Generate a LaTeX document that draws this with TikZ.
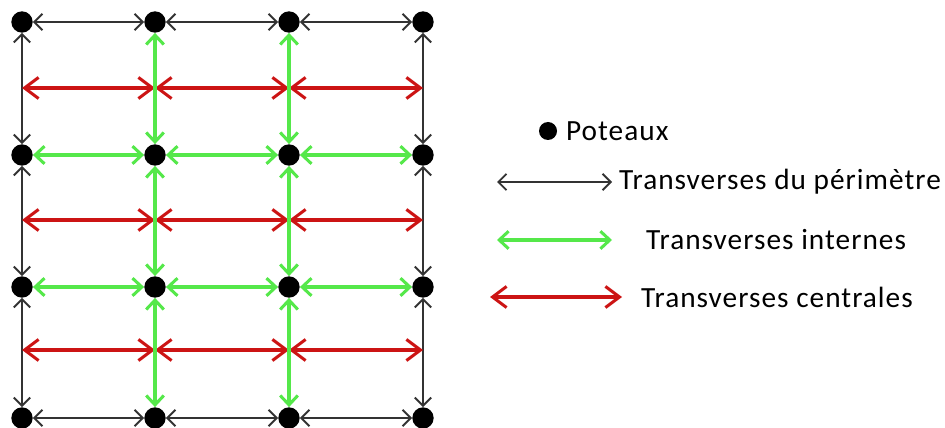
\documentclass[tikz,border=0pt]{standalone}
\usepackage{fontspec}
\setmainfont{Carlito}
\usetikzlibrary{arrows.meta}
\definecolor{vertclair}{HTML}{55E84A}
\definecolor{rougecentre}{HTML}{CC1414}
\definecolor{grisfonce}{HTML}{333333}
\begin{document}
\begin{tikzpicture}[x=0.03cm, y=-0.03cm,
    poteau/.style ={circle, fill=black, inner sep=0pt, minimum size=0.64cm},
    perimetre/.style ={grisfonce, line width=1.8pt, {Straight Barb[length=7pt, width=14pt, line width=1.6pt]}-{Straight Barb[length=7pt, width=14pt, line width=1.6pt]}},
    interne/.style ={vertclair, line width=3pt, {Straight Barb[length=8pt, width=15pt, line width=2.6pt]}-{Straight Barb[length=8pt, width=15pt, line width=2.6pt]}},
    centrale/.style ={rougecentre, line width=3pt, {Straight Barb[length=12pt, width=18pt, line width=2.6pt]}-{Straight Barb[length=12pt, width=18pt, line width=2.6pt]}},
    legende/.style ={anchor=west, font=\fontsize{25}{30}\selectfont\addfontfeatures{LetterSpace=3.5}}]
   \useasboundingbox (0,0) rectangle (945,428);

   % poteaux
   \node[poteau] (A) at (22,22)  {};
   \node[poteau] (B) at (155,22)  {};
   \node[poteau] (C) at (289,22)  {};
   \node[poteau] (D) at (423,22)  {};
   \node[poteau] (E) at (22,155)  {};
   \node[poteau] (F) at (155,155)  {};
   \node[poteau] (G) at (289,155)  {};
   \node[poteau] (H) at (423,155)  {};
   \node[poteau] (I) at (22,287)  {};
   \node[poteau] (J) at (155,287)  {};
   \node[poteau] (K) at (289,287)  {};
   \node[poteau] (L) at (423,287)  {};
   \node[poteau] (M) at (22,418)  {};
   \node[poteau] (N) at (155,418)  {};
   \node[poteau] (O) at (289,418)  {};
   \node[poteau] (P) at (423,418)  {};

   % points des transverses centrales
   \coordinate (a1) at (22,88);
   \coordinate (a2) at (155,88);
   \coordinate (a3) at (289,88);
   \coordinate (a4) at (423,88);
   \coordinate (b1) at (22,220);
   \coordinate (b2) at (155,220);
   \coordinate (b3) at (289,220);
   \coordinate (b4) at (423,220);
   \coordinate (c1) at (22,350);
   \coordinate (c2) at (155,350);
   \coordinate (c3) at (289,350);
   \coordinate (c4) at (423,350);

   % perimetre
   \draw[perimetre] (A) to  (B);
   \draw[perimetre] (B) to  (C);
   \draw[perimetre] (C) to  (D);
   \draw[perimetre] (M) to  (N);
   \draw[perimetre] (N) to  (O);
   \draw[perimetre] (O) to  (P);
   \draw[perimetre] (A) to  (E);
   \draw[perimetre] (E) to  (I);
   \draw[perimetre] (I) to  (M);
   \draw[perimetre] (D) to  (H);
   \draw[perimetre] (H) to  (L);
   \draw[perimetre] (L) to  (P);

   % centrales
   \draw[centrale] (a1) to  (a2);
   \draw[centrale] (a2) to  (a3);
   \draw[centrale] (a3) to  (a4);
   \draw[centrale] (b1) to  (b2);
   \draw[centrale] (b2) to  (b3);
   \draw[centrale] (b3) to  (b4);
   \draw[centrale] (c1) to  (c2);
   \draw[centrale] (c2) to  (c3);
   \draw[centrale] (c3) to  (c4);

   % internes
   \draw[interne] (B) to  (F);
   \draw[interne] (F) to  (J);
   \draw[interne] (J) to  (N);
   \draw[interne] (C) to  (G);
   \draw[interne] (G) to  (K);
   \draw[interne] (K) to  (O);
   \draw[interne] (E) to  (F);
   \draw[interne] (F) to  (G);
   \draw[interne] (G) to  (H);
   \draw[interne] (I) to  (J);
   \draw[interne] (J) to  (K);
   \draw[interne] (K) to  (L);

   % legende
   \node[poteau, minimum size=0.54cm] (Q) at (548,131) {};
   \node[legende] (q) at (562,131) {Poteaux};
   \coordinate (s1) at (497,182);
   \coordinate (s2) at (612,182);
   \draw[perimetre] (s1) to  (s2);
   \node[legende] (s) at (615,182) {Transverses du périmètre};
   \coordinate (t1) at (497,240);
   \coordinate (t2) at (612,240);
   \draw[interne] (t1) to  (t2);
   \node[legende] (t) at (642,240) {Transverses internes};
   \coordinate (u1) at (490,297);
   \coordinate (u2) at (622,297);
   \draw[centrale] (u1) to  (u2);
   \node[legende] (u) at (637,297) {Transverses centrales};
 \end{tikzpicture}
\end{document}
